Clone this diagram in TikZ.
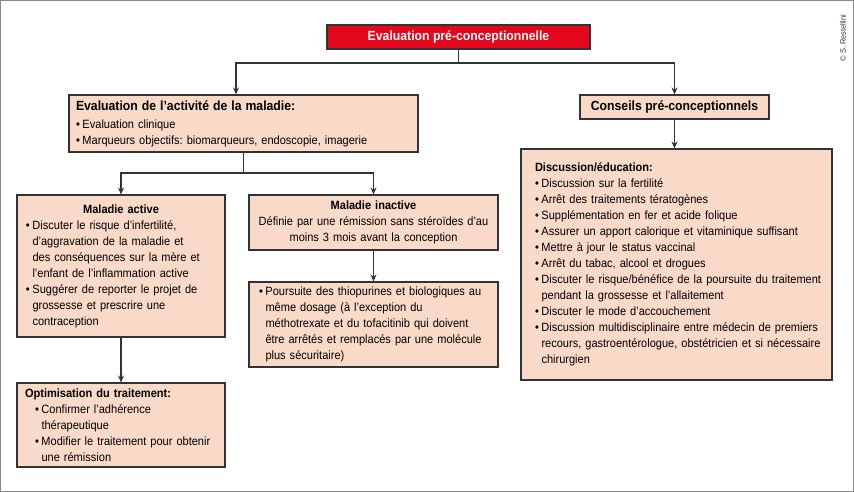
\documentclass[tikz,border=0pt]{standalone}
\usepackage{fontspec}
\setmainfont{Liberation Sans}[FakeStretch=0.92]
\frenchspacing
\usetikzlibrary{arrows.meta}
\definecolor{boxfill}{HTML}{F9D9C8}
\definecolor{boxline}{HTML}{333333}
\definecolor{titlered}{HTML}{E2071B}
\definecolor{framegray}{HTML}{8A8A8A}
\newcommand{\bul}{\makebox[6.5pt][l]{\textbullet}}
\newcommand{\hang}{\makebox[6.5pt]{}}
\newcommand{\pad}{\makebox[13pt]{}}
\begin{document}
\begin{tikzpicture}[x=1pt, y=-1pt, >={Stealth[length=7pt, width=6pt]},
        every node/.style={inner ysep=0pt},
        box/.style={draw=boxline, fill=boxfill, line width=1.1pt, align=left, font=\fontsize{12}{16}\selectfont},
        bigtitle/.style={font=\fontsize{13.3}{16}\selectfont\bfseries},
        link/.style={draw=boxline, line width=1.1pt}]
        \useasboundingbox (0,0) rectangle (854,492);
        \draw[framegray, line width=1.2pt] (0.6,0.6) rectangle (853.4,491.4);
        \node[rotate=90, text=black!80, font=\fontsize{8}{9}\selectfont] (credit) at (843,38) {© S. Restellini};
        \node[draw=boxline, fill=titlered, text=white, line width=1.1pt, bigtitle, minimum width=263pt, minimum height=24pt] (eval) at (458.5,37) {Evaluation pré-conceptionnelle};
        \node[box, text width=335pt, inner xsep=7pt, minimum height=57pt] (act) at (243.5,123.5) {{\fontsize{13.3}{16}\selectfont\bfseries Evaluation de l’activité de la maladie:}\\[2pt]
                \bul Evaluation clinique\\
                \bul Marqueurs objectifs: biomarqueurs, endoscopie, imagerie};
        \node[box, bigtitle, align=center, minimum width=189pt, minimum height=24pt] (cons) at (674.5,107) {Conseils pré-conceptionnels};
        \node[box, text width=309pt, inner xsep=1pt, minimum height=231pt] (disc) at (676.5,264.5) {\pad\textbf{Discussion/éducation:}\\
                \pad\bul Discussion sur la fertilité\\
                \pad\bul Arrêt des traitements tératogènes\\
                \pad\bul Supplémentation en fer et acide folique\\
                \pad\bul Assurer un apport calorique et vitaminique suffisant\\
                \pad\bul Mettre à jour le status vaccinal\\
                \pad\bul Arrêt du tabac, alcool et drogues\\
                \pad\bul Discuter le risque/bénéfice de la poursuite du traitement\\
                \pad\hang pendant la grossesse et l’allaitement\\
                \pad\bul Discuter le mode d’accouchement\\
                \pad\bul Discussion multidisciplinaire entre médecin de premiers\\
                \pad\hang recours, gastroentérologue, obstétricien et si nécessaire\\
                \pad\hang chirurgien};
        \node[box, text width=190pt, inner xsep=9pt, minimum height=142pt] (active) at (121,266) {\makebox[\linewidth]{\bfseries Maladie active}\\
                \bul Discuter le risque d’infertilité,\\
                \hang d’aggravation de la maladie et\\
                \hang des conséquences sur la mère et\\
                \hang l’enfant de l’inflammation active\\
                \bul Suggérer de reporter le projet de\\
                \hang grossesse et prescrire une\\
                \hang contraception};
        \node[box, align=center, text width=239pt, inner xsep=5pt, minimum height=55pt] (inactive) at (373.5,222.5) {\textbf{Maladie inactive}\\
                Définie par une rémission sans stéroïdes d’au\\
                moins 3 mois avant la conception};
        \node[box, text width=229pt, inner xsep=10pt, minimum height=85pt] (pours) at (373.5,324.5) {\bul Poursuite des thiopurines et biologiques au\\
                \hang même dosage (à l’exception du\\
                \hang méthotrexate et du tofacitinib qui doivent\\
                \hang être arrêtés et remplacés par une molécule\\
                \hang plus sécuritaire)};
        \node[box, text width=192pt, inner xsep=8pt, minimum height=84pt] (optim) at (121,425) {\textbf{Optimisation du traitement:}\\
                \hspace*{10pt}\bul Confirmer l’adhérence\\
                \hspace*{10pt}\hang thérapeutique\\
                \hspace*{10pt}\bul Modifier le traitement pour obtenir\\
                \hspace*{10pt}\hang une rémission};
        \coordinate (j1) at (458.5,63);
        \coordinate (j2) at (243.5,173);
        \coordinate (actin) at ([xshift=-7.5pt]act.north);
        \draw[link] (eval) -- (j1);
        \draw[link, ->] (j1) -| (actin);
        \draw[link, ->] (j1) -| (cons);
        \draw[link, ->] (cons) -- (cons |- disc.north);
        \draw[link] (act) -- (j2);
        \draw[link, ->] (j2) -| (active);
        \draw[link, ->] (j2) -| (inactive);
        \draw[link, ->] (inactive) -- (pours);
        \draw[link, ->] (active) -- (optim);
\end{tikzpicture}
\end{document}
